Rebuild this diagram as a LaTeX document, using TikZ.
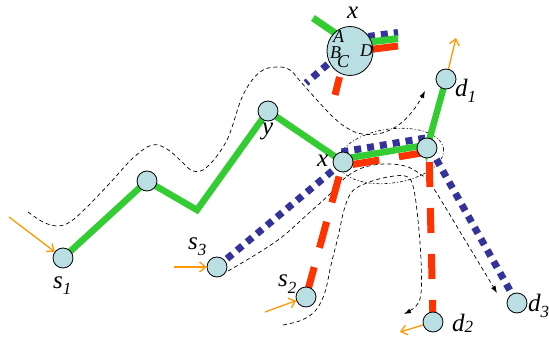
\documentclass[tikz,border=0pt]{standalone}
\usepackage{fontspec}
\setmainfont{Liberation Serif}
\usetikzlibrary{arrows.meta,calc,shapes.geometric}
\definecolor{nodefill}{RGB}{185,223,227}
\definecolor{pgreen}{RGB}{51,204,51}
\definecolor{pred}{RGB}{255,51,0}
\definecolor{pblue}{RGB}{51,51,153}
\definecolor{porange}{RGB}{255,153,0}
\pgfdeclarelayer{bg}
\pgfsetlayers{bg,main}
\newcommand{\withsub}[3][-6pt]{#2\raisebox{#1}{\fontsize{17}{17}\selectfont #3}}
\begin{document}
\begin{tikzpicture}[x=1pt,y=-1pt,
  router/.style={circle,draw=black,line width=0.8pt,fill=nodefill,minimum size=20pt,inner sep=0pt},
  gpath/.style={draw=pgreen,line width=6.5pt},
  rpath/.style={draw=pred,line width=7pt},
  bpath/.style={draw=pblue,line width=7pt,dash pattern=on 7pt off 6pt},
  flow/.style={draw=black,line width=0.7pt,dash pattern=on 4pt off 3pt},
  flowtip/.style={-{Latex[length=7pt,width=5pt]}},
  inarr/.style={draw=porange,line width=1.3pt,-{Straight Barb[length=6pt,width=10pt]}},
  lbl/.style={anchor=base west,inner sep=0pt,font=\fontsize{25}{25}\selectfont\itshape},
  sml/.style={anchor=base west,inner sep=0pt,font=\fontsize{18}{18}\selectfont\itshape}
]
\useasboundingbox (0,0) rectangle (549,339);

% routers
\node[router] (s1) at (63,258) {};
\node[router] (n2) at (147,181) {};
\coordinate (bend) at (197,210);
\node[router] (y) at (268,111) {};
\node[router] (x) at (343,162) {};
\node[router] (r) at (427,148) {};
\node[router] (d1) at (446,79) {};
\node[router] (s3) at (217,267) {};
\node[router] (s2) at (306,297) {};
\node[router] (d2) at (433,322) {};
\node[router] (d3) at (517,303) {};

% enlarged view of router x
\node[ellipse,draw=black,line width=0.8pt,fill=nodefill,minimum width=46pt,minimum height=49pt,inner sep=0pt] (X) at (350,51) {};

\begin{pgfonlayer}{bg}
  % flow routes
  \draw[flow,flowtip] plot[smooth,tension=0.6] coordinates {(28,212) (43,222) (57,226) (70,222) (87,207) (110,183) (133,158) (152,145) (167,149) (180,160) (193,171) (207,167) (227,140) (243,95) (260,72) (277,67) (290,70) (300,81) (317,100) (333,117) (347,128) (362,134) (382,133) (400,124) (415,108) (425,91)};
  \draw[flow,flowtip] plot[smooth,tension=0.6] coordinates {(228,271) (255,255) (282,237) (310,212) (330,194) (345,178) (362,168) (383,164) (405,166) (420,174) (432,186) (465,240) (497,293)};
  \draw[flow,flowtip] plot[smooth,tension=0.6] coordinates {(283,325) (302,320) (316,310) (325,292) (331,265) (338,237) (344,210) (351,193) (362,185) (383,178) (405,176) (413,186) (418,220) (421,260) (421,293) (416,306) (404,314)};
  % aggregation region around x and its neighbour
  \draw[line width=0.6pt,dash pattern=on 3pt off 2pt on 1pt off 2pt,rotate around={8:(391,156)}] (391,156) ellipse [x radius=53, y radius=27];

  % green path
  \draw[gpath] (s1.center) -- (n2.center) -- (bend) -- (y.center) -- (x.center)
      -- ($(x)+(-0.5,-3)$) -- ($(r)+(-0.5,-3)$) -- (r.center) -- (d1.center);
  % blue path
  \draw[bpath] (s3.center) -- (x.center);
  \draw[bpath] ($(x)+(-1.6,-10)$) -- ($(r)+(-1.6,-10)$);
  \draw[bpath] ($(r)+(3,0)$) -- (d3.center);
  % red path
  \draw[rpath,dash pattern=on 27pt off 20pt,dash phase=43pt] (s2.center) -- (x.center);
  \draw[rpath,dash pattern=on 27pt off 20pt,dash phase=38pt] ($(x)+(0.7,4)$) -- ($(r)+(0.7,4)$);
  \draw[rpath,dash pattern=on 25pt off 21pt,dash phase=34pt] ($(r)+(2,2)$) -- (d2.center);

  % ports of the enlarged router
  \draw[draw=pgreen,line width=7pt] (313,18) -- (345,40);
  \draw[bpath,dash phase=3.5pt] (335,58) -- (306,83);
  \draw[draw=pred,line width=7pt] (339.5,77) -- (335,95);
  \draw[bpath] (368,36.5) -- (398,32.5);
  \draw[draw=pgreen,line width=7pt] (362,43) -- (398,38.5);
  \draw[draw=pred,line width=7pt] (362,50.5) -- (398,46);
\end{pgfonlayer}

% sources and sinks
\coordinate (in1) at (9,217);
\coordinate (in3) at (174,267);
\coordinate (in2) at (265,312);
\coordinate (out1) at (456,38);
\coordinate (out2) at (400,332);
\draw[inarr] (in1) -- (s1);
\draw[inarr] (in3) -- (s3);
\draw[inarr] (in2) -- (s2);
\draw[inarr] (d1) -- (out1);
\draw[inarr] (d2) -- (out2);

% labels
\node[lbl] at (53,288) {\withsub{s}{1}};
\node[lbl] at (188,250) {\withsub{s}{3}};
\node[lbl] at (278,287) {\withsub{s}{2}};
\node[lbl] at (455,97) {\withsub{d}{1}};
\node[lbl] at (452,331) {\withsub[-1.5pt]{d}{2}};
\node[lbl] at (528,311) {\withsub{d}{3}};
\node[lbl] at (262,135) {y};
\node[lbl] at (317,167) {x};
\node[lbl] at (347,19) {x};
\node[sml] at (333,43) {A};
\node[sml] at (330,59) {B};
\node[sml] at (337,68) {C};
\node[sml] at (360,57) {D};
\end{tikzpicture}
\end{document}
